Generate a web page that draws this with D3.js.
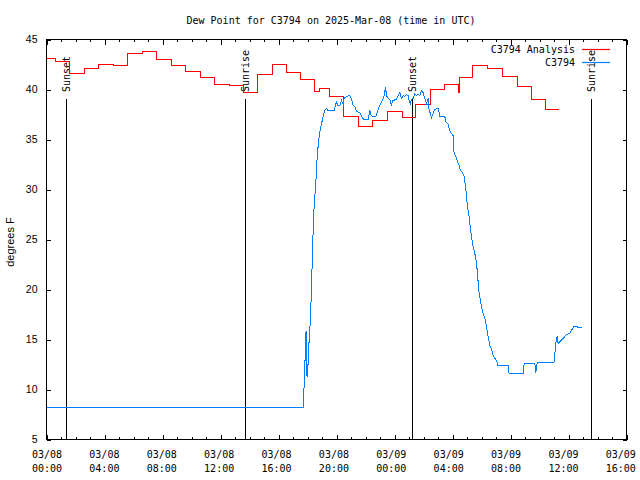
<!DOCTYPE html>
<html><head><meta charset="utf-8">
<script src="https://cdn.jsdelivr.net/npm/d3@7"></script>
<style>body{margin:0;background:#fff}svg{display:block}</style>
</head><body>
<svg id="c" width="640" height="480"></svg>
<script>
// ---- data ----
const startTime = "2025-03-08T00:00:00Z";
const endTime = "2025-03-09T16:00:00Z";
const titleText = "Dew Point for C3794 on 2025-Mar-08 (time in UTC)";
const yLabel = "degrees F";
const seriesNames = ["C3794 Analysis", "C3794"];
const seriesColors = ["#ff0000", "#0080ff"];
const yTicks = [5, 10, 15, 20, 25, 30, 35, 40, 45];

// hours since start, analysis (red) step values
const analysisHours = [0, 0.6, 1.62, 2.62, 3.62, 4.6, 5.6, 6.6, 7.62, 8.62, 9.62, 10.6, 11.6, 12.6, 13.56, 14.58, 15.56, 16.55, 17.55, 18.5, 18.83, 19.54, 20.5, 21.5, 22.5, 23.5, 24.55, 25.47, 26.45, 27.47, 28.4, 28.46, 29.4, 30.4, 31.45, 32.46, 33.45, 34.4, 35.33];
const analysisValues = [43.1, 42.8, 41.6, 42.1, 42.5, 42.4, 43.6, 43.8, 43.0, 42.4, 41.8, 41.2, 40.5, 40.4, 39.7, 41.5, 42.5, 41.7, 41.0, 39.8, 40.1, 39.3, 37.3, 36.3, 36.9, 37.8, 37.2, 38.5, 40.0, 40.5, 39.7, 41.2, 42.4, 42.1, 41.3, 40.3, 39.0, 38.0, 38.0];

// hours since start, observed (blue)
const obsHours = [0, 17.70, 17.74, 17.81, 17.86, 17.90, 17.93, 17.97, 18.04, 18.11, 18.20, 18.27, 18.34, 18.43, 18.50, 18.57, 18.62, 18.73, 18.85, 18.97, 19.08, 19.19, 19.31, 19.42, 19.83, 19.93, 20.00, 20.07, 20.23, 20.34, 20.46, 20.52, 20.69, 20.92, 21.03, 21.15, 21.26, 21.38, 21.61, 21.72, 21.88, 22.18, 22.30, 22.37, 22.48, 22.71, 22.80, 22.94, 23.06, 23.17, 23.28, 23.38, 23.45, 23.56, 23.68, 23.79, 23.86, 24.14, 24.25, 24.37, 24.48, 24.60, 24.71, 24.83, 24.94, 25.01, 25.10, 25.17, 25.28, 25.40, 25.52, 25.63, 25.74, 25.86, 25.97, 26.09, 26.20, 26.32, 26.39, 26.48, 26.55, 26.66, 26.78, 26.90, 27.03, 27.12, 27.47, 27.54, 27.70, 27.81, 27.93, 28.04, 28.11, 28.23, 28.32, 28.46, 28.55, 28.69, 28.80, 28.90, 28.97, 29.03, 29.12, 29.19, 29.31, 29.42, 29.54, 29.66, 29.74, 29.81, 29.93, 30.00, 30.11, 30.23, 30.34, 30.46, 30.57, 30.69, 30.80, 31.03, 31.14, 31.83, 31.90, 32.87, 32.94, 33.68, 33.74, 33.84, 35.00, 35.06, 35.12, 35.21, 35.28, 35.40, 35.63, 35.86, 36.09, 36.20, 36.36, 36.59, 36.66, 36.90];
const obsValues = [8.2, 8.2, 9.4, 11.9, 14.6, 15.8, 12.0, 11.3, 12.6, 14.9, 16.9, 19.9, 23.6, 27.6, 29.3, 30.3, 32.3, 34.3, 35.8, 36.6, 37.3, 37.9, 38.1, 37.9, 37.9, 38.4, 38.8, 38.4, 38.4, 38.9, 38.5, 39.1, 39.3, 39.4, 39.1, 38.4, 38.3, 37.8, 37.7, 37.3, 37.0, 37.0, 37.9, 37.5, 37.3, 37.3, 37.7, 38.3, 38.6, 38.9, 39.4, 40.2, 39.4, 39.1, 39.0, 38.4, 38.9, 39.0, 39.4, 39.7, 39.1, 39.4, 39.3, 39.5, 39.4, 38.9, 38.6, 39.0, 39.1, 39.6, 39.4, 39.5, 39.4, 39.9, 39.7, 39.1, 38.6, 39.1, 37.9, 37.6, 37.2, 37.6, 38.0, 38.1, 38.1, 37.3, 37.3, 36.8, 36.5, 35.9, 35.6, 35.4, 33.6, 33.3, 32.9, 32.4, 31.9, 31.7, 31.3, 30.3, 29.3, 28.3, 27.6, 26.6, 25.3, 24.3, 23.6, 22.6, 21.3, 19.9, 18.9, 18.2, 17.6, 17.1, 16.3, 15.3, 14.4, 14.1, 13.4, 12.9, 12.4, 12.4, 11.6, 11.6, 12.6, 12.6, 11.7, 12.7, 12.7, 13.6, 14.6, 15.3, 14.6, 14.8, 15.1, 15.5, 15.6, 15.9, 16.3, 16.3, 16.2, 16.2];

const sunLabels = ["Sunset", "Sunrise", "Sunset", "Sunrise"];
const sunHours = [1.35, 13.72, 25.21, 37.52];

// ---- drawing ----
const svg = d3.select("#c");
const L = 46.5, R = 626.5, T = 39.5, B = 439.5;
const t0 = new Date(startTime), t1 = new Date(endTime);
const hr = h => new Date(t0.getTime() + h * 3600000);
const x = d3.scaleUtc().domain([t0, t1]).range([L, R]);
const y = d3.scaleLinear().domain([5, 45]).range([B, T]);
const mono = "'DejaVu Sans Mono', monospace";
const sans = "'Liberation Sans', Arial, sans-serif";

svg.append("rect").attr("width", 640).attr("height", 480).attr("fill", "#fff");

// minor and major ticks (inward)
const major = d3.utcHour.every(4).range(t0, new Date(t1.getTime() + 1));
const minor = d3.utcHour.every(1).range(t0, new Date(t1.getTime() + 1));
function tickAxis(axis, tr) {
  const g = svg.append("g").attr("transform", tr).call(axis);
  g.select(".domain").remove();
  g.selectAll("line").attr("stroke", "#000").attr("shape-rendering", "crispEdges");
  return g;
}
tickAxis(d3.axisBottom(x).tickValues(minor).tickSize(-2.5).tickFormat(""), `translate(0,${B})`);
tickAxis(d3.axisTop(x).tickValues(minor).tickSize(-2.5).tickFormat(""), `translate(0,${T})`);
tickAxis(d3.axisTop(x).tickValues(major).tickSize(-5).tickFormat(""), `translate(0,${T})`);
const gx = tickAxis(d3.axisBottom(x).tickValues(major).tickSize(-5).tickPadding(0)
  .tickFormat(d => ""), `translate(0,${B})`);
gx.selectAll(".tick text").remove();
gx.selectAll(".tick").append("text")
  .attr("font-family", mono).attr("font-size", 10).attr("fill", "#000")
  .attr("text-anchor", "middle")
  .each(function(d, i) {
    const t = d3.select(this);
    const dx = -0.62 * i;
    t.append("tspan").attr("x", dx).attr("y", 18).text(d3.utcFormat("%m/%d")(d));
    t.append("tspan").attr("x", dx).attr("y", 32).text(d3.utcFormat("%H:%M")(d));
  });

const gy = tickAxis(d3.axisLeft(y).tickValues(yTicks).tickSize(-4).tickPadding(9), `translate(${L},0)`);
gy.selectAll("text").attr("font-family", sans).attr("font-size", 10.5).attr("fill", "#000");
tickAxis(d3.axisRight(y).tickValues(yTicks).tickSize(-4).tickFormat(""), `translate(${R},0)`);

// frame
svg.append("rect").attr("x", L).attr("y", T).attr("width", R - L).attr("height", B - T)
  .attr("fill", "none").attr("stroke", "#000").attr("shape-rendering", "crispEdges");

// sun lines
sunHours.forEach((h, i) => {
  const sx = Math.round(x(hr(h))) + 0.5;
  svg.append("line").attr("x1", sx).attr("x2", sx).attr("y1", 99).attr("y2", B)
    .attr("stroke", "#000").attr("shape-rendering", "crispEdges");
  svg.append("text").attr("transform", `translate(${sx},92) rotate(-90)`)
    .attr("dy", "0.35em").attr("font-family", mono).attr("font-size", 10)
    .attr("fill", "#000").text(sunLabels[i]);
});

// series
const analysis = analysisHours.map((h, i) => [hr(h), analysisValues[i]]);
const obs = obsHours.map((h, i) => [hr(h), obsValues[i]]);
svg.append("path").datum(analysis)
  .attr("d", d3.line().x(d => x(d[0])).y(d => y(d[1])).curve(d3.curveStepAfter))
  .attr("fill", "none").attr("stroke", seriesColors[0]).attr("stroke-width", 1)
  .attr("shape-rendering", "crispEdges");
svg.append("path").datum(obs)
  .attr("d", d3.line().x(d => x(d[0])).y(d => y(d[1])))
  .attr("fill", "none").attr("stroke", seriesColors[1]).attr("stroke-width", 1)
  .attr("shape-rendering", "crispEdges");

// legend
seriesNames.forEach((n, i) => {
  const ly = 49.5 + i * 13;
  svg.append("text").attr("x", 575).attr("y", ly).attr("dy", "0.35em")
    .attr("text-anchor", "end").attr("font-family", mono).attr("font-size", 10)
    .attr("fill", "#000").text(n);
  svg.append("line").attr("x1", 582).attr("x2", 610).attr("y1", ly).attr("y2", ly)
    .attr("stroke", seriesColors[i]).attr("stroke-width", 1.2);
});

// title and y label
svg.append("text").attr("x", 331).attr("y", 23.5).attr("text-anchor", "middle")
  .attr("font-family", mono).attr("font-size", 10).attr("fill", "#000").text(titleText);
svg.append("text").attr("transform", `translate(14,242) rotate(-90)`)
  .attr("text-anchor", "middle").attr("font-family", sans).attr("font-size", 11)
  .attr("fill", "#000").text(yLabel);
</script>
</body></html>
